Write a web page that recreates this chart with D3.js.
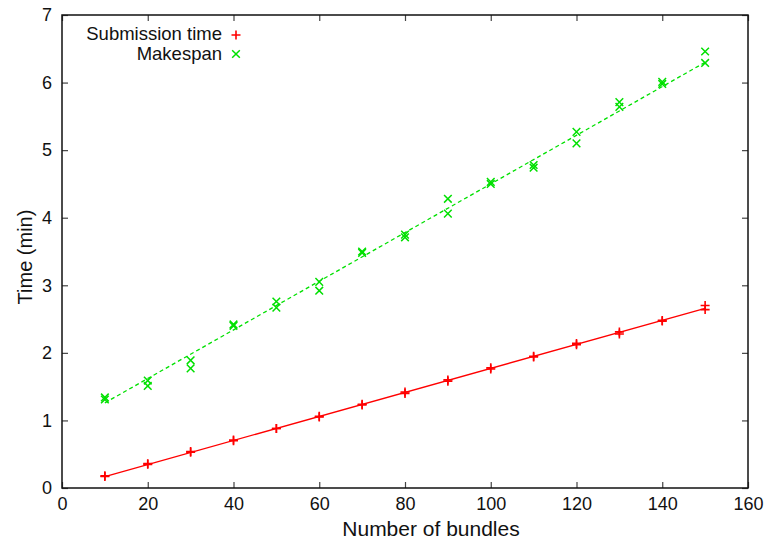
<!DOCTYPE html>
<html><head><meta charset="utf-8">
<script src="https://cdn.jsdelivr.net/npm/d3@7"></script>
<style>body{margin:0;background:#fff}svg{display:block}text{font-family:"Liberation Sans",Arial,Helvetica,sans-serif;fill:#111}</style>
</head><body>
<script>
// ---- data ----
const xTicks = [0,20,40,60,80,100,120,140,160];
const yTicks = [0,1,2,3,4,5,6,7];
const bundles = [10,20,30,40,50,60,70,80,90,100,110,120,130,140,150];
const submissionRun1 = [0.17,0.35,0.53,0.70,0.88,1.05,1.23,1.40,1.58,1.76,1.94,2.12,2.28,2.47,2.64];
const submissionRun2 = [0.18,0.36,0.54,0.71,0.88,1.06,1.24,1.42,1.60,1.78,1.95,2.14,2.31,2.48,2.70];
const makespanRun1 = [1.34,1.59,1.89,2.42,2.76,3.05,3.50,3.75,4.28,4.53,4.78,5.27,5.71,6.01,6.46];
const makespanRun2 = [1.31,1.51,1.77,2.40,2.67,2.92,3.48,3.71,4.06,4.50,4.74,5.10,5.64,5.98,6.29];
const submissionFit = [[10,0.17],[150,2.66]];
const makespanFit = [[10,1.26],[150,6.30]];
const legendLabels = ["Submission time","Makespan"];

const W=771,H=542;
const m={l:62,r:23,t:15,b:54};
const svg=d3.select("body").append("svg").attr("width",W).attr("height",H);
const x=d3.scaleLinear().domain([0,160]).range([m.l,W-m.r]);
const y=d3.scaleLinear().domain([0,7]).range([H-m.b,m.t]);
const red="#ff0000", green="#00e000";
const fs=18;

// axes (inward ticks on all four sides)
const tl=6;
const gx=svg.append("g").attr("transform",`translate(0,${y(0)})`)
  .call(d3.axisBottom(x).tickValues(xTicks).tickSize(-tl).tickPadding(9).tickFormat(d3.format("d")));
const gxt=svg.append("g").attr("transform",`translate(0,${y(7)})`)
  .call(d3.axisTop(x).tickValues(xTicks).tickSize(-tl).tickFormat(""));
const gy=svg.append("g").attr("transform",`translate(${x(0)},0)`)
  .call(d3.axisLeft(y).tickValues(yTicks).tickSize(-tl).tickPadding(10).tickFormat(d3.format("d")));
const gyr=svg.append("g").attr("transform",`translate(${x(160)},0)`)
  .call(d3.axisRight(y).tickValues(yTicks).tickSize(-tl).tickFormat(""));
[gx,gxt,gy,gyr].forEach(g=>{
  g.select(".domain").remove();
  g.selectAll(".tick line").attr("stroke","#444").attr("stroke-width",1.2);
  g.selectAll("text").style("font-size",fs+"px").attr("fill","#111");
});
svg.append("rect").attr("x",x(0)).attr("y",y(7)).attr("width",x(160)-x(0)).attr("height",y(0)-y(7))
  .attr("fill","none").attr("stroke","#111").attr("stroke-width",1.5);

// axis titles
svg.append("text").attr("x",431).attr("y",536).attr("text-anchor","middle")
  .style("font-size","21px").text("Number of bundles");
svg.append("text").attr("transform",`translate(32,257) rotate(-90)`).attr("text-anchor","middle")
  .style("font-size","20px").text("Time (min)");

// fit lines
const line=d3.line().x(d=>x(d[0])).y(d=>y(d[1]));
svg.append("path").datum(submissionFit).attr("d",line).attr("stroke",red).attr("stroke-width",1.3).attr("fill","none");
svg.append("path").datum(makespanFit).attr("d",line).attr("stroke",green).attr("stroke-width",1.3)
  .attr("stroke-dasharray","4,3").attr("fill","none");

// markers
const s=4.5;
function plus(g,cx,cy,c){g.append("path").attr("d",`M${cx-s},${cy}H${cx+s}M${cx},${cy-s}V${cy+s}`).attr("stroke",c).attr("stroke-width",1.6);}
function cross(g,cx,cy,c){const k=s*0.85;g.append("path").attr("d",`M${cx-k},${cy-k}L${cx+k},${cy+k}M${cx-k},${cy+k}L${cx+k},${cy-k}`).attr("stroke",c).attr("stroke-width",1.5);}
const gp=svg.append("g");
bundles.forEach((b,i)=>{
  plus(gp,x(b),y(submissionRun1[i]),red);
  plus(gp,x(b),y(submissionRun2[i]),red);
  cross(gp,x(b),y(makespanRun1[i]),green);
  cross(gp,x(b),y(makespanRun2[i]),green);
});

// legend
const lg=svg.append("g");
lg.append("text").attr("x",222).attr("y",34).attr("dy","0.35em").attr("text-anchor","end").style("font-size","18.5px").text(legendLabels[0]);
lg.append("text").attr("x",222).attr("y",54).attr("dy","0.35em").attr("text-anchor","end").style("font-size","18.5px").text(legendLabels[1]);
plus(lg,236,35,red);
cross(lg,236,54,green);
</script>
</body></html>
